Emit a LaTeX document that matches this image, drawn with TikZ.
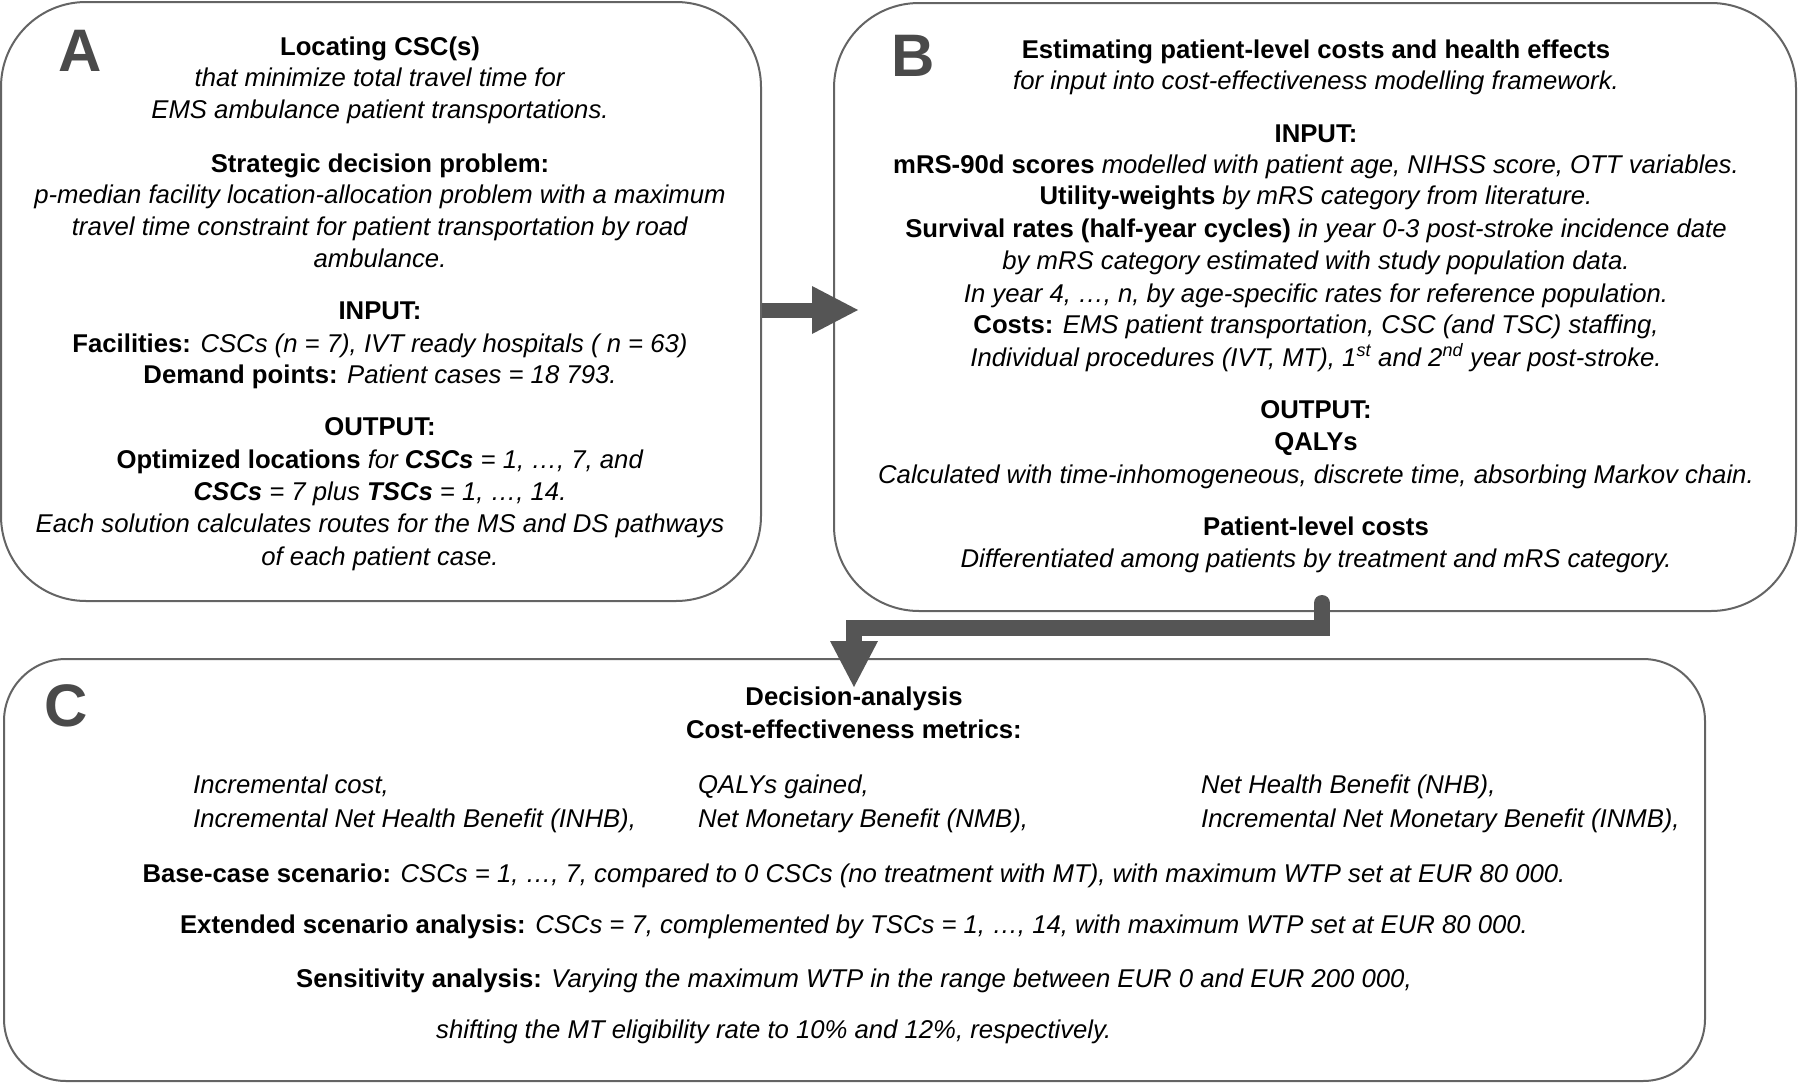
\documentclass[tikz,border=0pt]{standalone}
\usepackage{fontspec}
\setmainfont{Liberation Sans}
\usetikzlibrary{calc}
\definecolor{edgegray}{HTML}{646464}
\definecolor{arrowgray}{HTML}{555555}
\definecolor{lettergray}{HTML}{4A4A4A}
\begin{document}
\begin{tikzpicture}[x=1pt,y=-1pt,
  panel/.style={draw=edgegray, line width=2pt, fill=white, rectangle, inner sep=0pt},
  ln/.style={anchor=base, inner sep=0pt, font=\fontsize{25.7}{32}\selectfont},
  lnl/.style={ln, anchor=base west},
  letter/.style={anchor=base west, inner sep=0pt, text=lettergray, font=\fontsize{60}{60}\selectfont\bfseries},
  fatbar/.style={draw=arrowgray, line width=15pt},
  fathead/.style={fill=arrowgray}
]
\useasboundingbox (0,0) rectangle (1800,1084);

% panels
\node[panel, rounded corners=85pt, minimum width=760pt, minimum height=599pt] (A) at (381,301.5) {};
\node[panel, rounded corners=85pt, minimum width=962pt, minimum height=608pt] (B) at (1315,307) {};
\node[panel, rounded corners=62pt, minimum width=1701pt, minimum height=422pt] (C) at (854.5,870) {};

% letters
\node[letter] (la) at (58,71) {A};
\node[letter] (lb) at (891,76) {B};
\node[letter] (lc) at (44,726) {C};

% panel A text
\node[ln] (a1) at (380,55) {\textbf{Locating CSC(s)}};
\node[ln] (a2) at (380,86) {\textit{that minimize total travel time for}};
\node[ln] (a3) at (380,118) {\textit{EMS ambulance patient transportations.}};
\node[ln] (a4) at (380,172) {\textbf{Strategic decision problem:}};
\node[ln] (a5) at (380,203) {\textit{p-median facility location-allocation problem with a maximum}};
\node[ln] (a6) at (380,235) {\textit{travel time constraint for patient transportation by road}};
\node[ln] (a7) at (380,267) {\textit{ambulance.}};
\node[ln] (a8) at (380,319) {\textbf{INPUT:}};
\node[ln] (a9) at (380,352) {\textbf{Facilities:} \textit{CSCs (n = 7), IVT ready hospitals ( n = 63)}};
\node[ln] (a10) at (380,383) {\textbf{Demand points:} \textit{Patient cases = 18 793.}};
\node[ln] (a11) at (380,435) {\textbf{OUTPUT:}};
\node[ln] (a12) at (380,468) {\textbf{Optimized locations} \textit{for \textbf{CSCs} = 1, …, 7, and}};
\node[ln] (a13) at (380,500) {\textit{\textbf{CSCs} = 7 plus \textbf{TSCs} = 1, …, 14.}};
\node[ln] (a14) at (380,532) {\textit{Each solution calculates routes for the MS and DS pathways}};
\node[ln] (a15) at (380,565) {\textit{of each patient case.}};

% panel B text
\node[ln] (b1) at (1316,58) {\textbf{Estimating patient-level costs and health effects}};
\node[ln] (b2) at (1316,89) {\textit{for input into cost-effectiveness modelling framework.}};
\node[ln] (b3) at (1316,142) {\textbf{INPUT:}};
\node[ln] (b4) at (1316,173) {\textbf{mRS-90d scores} \textit{modelled with patient age, NIHSS score, OTT variables.}};
\node[ln] (b5) at (1316,204) {\textbf{Utility-weights} \textit{by mRS category from literature.}};
\node[ln] (b6) at (1316,237) {\textbf{Survival rates (half-year cycles)} \textit{in year 0-3 post-stroke incidence date}};
\node[ln] (b7) at (1316,269) {\textit{by mRS category estimated with study population data.}};
\node[ln] (b8) at (1316,302) {\textit{In year 4, …, n, by age-specific rates for reference population.}};
\node[ln] (b9) at (1316,333) {\textbf{Costs:} \textit{EMS patient transportation, CSC (and TSC) staffing,}};
\node[ln] (b10) at (1316,366) {\textit{Individual procedures (IVT, MT), 1\textsuperscript{st} and 2\textsuperscript{nd} year post-stroke.}};
\node[ln] (b11) at (1316,418) {\textbf{OUTPUT:}};
\node[ln] (b12) at (1316,450) {\textbf{QALYs}};
\node[ln] (b13) at (1316,483) {\textit{Calculated with time-inhomogeneous, discrete time, absorbing Markov chain.}};
\node[ln] (b14) at (1316,535) {\textbf{Patient-level costs}};
\node[ln] (b15) at (1316,567) {\textit{Differentiated among patients by treatment and mRS category.}};

% panel C text
\node[ln] (c1) at (854,705) {\textbf{Decision-analysis}};
\node[ln] (c2) at (854,738) {\textbf{Cost-effectiveness metrics:}};
\node[lnl] (c3) at (193,793) {\textit{Incremental cost,}};
\node[lnl] (c4) at (698,793) {\textit{QALYs gained,}};
\node[lnl] (c5) at (1201,793) {\textit{Net Health Benefit (NHB),}};
\node[lnl] (c6) at (193,827) {\textit{Incremental Net Health Benefit (INHB),}};
\node[lnl] (c7) at (698,827) {\textit{Net Monetary Benefit (NMB),}};
\node[lnl] (c8) at (1201,827) {\textit{Incremental Net Monetary Benefit (INMB),}};
\node[ln] (c9) at (854,882) {\textbf{Base-case scenario:} \textit{CSCs = 1, …, 7, compared to 0 CSCs (no treatment with MT), with maximum WTP set at EUR 80 000.}};
\node[ln] (c10) at (854,933) {\textbf{Extended scenario analysis:} \textit{CSCs = 7, complemented by TSCs = 1, …, 14, with maximum WTP set at EUR 80 000.}};
\node[ln] (c11) at (854,987) {\textbf{Sensitivity analysis:} \textit{Varying the maximum WTP in the range between EUR 0 and EUR 200 000,}};
\node[lnl] (c12) at (436,1038) {\textit{shifting the MT eligibility rate to 10\% and 12\%, respectively.}};

% connector A -> B
\coordinate (abtip) at (858,310);
\draw[fatbar] (A.east |- abtip) -- ($(abtip)+(-45,0)$);
\fill[fathead] ($(abtip)+(-46,-24)$) -- (abtip) -- ($(abtip)+(-46,24)$) -- cycle;

% connector B -> C
\coordinate (bcstart) at (1322,603);
\coordinate (bcbend) at (1322,628);
\coordinate (bctip) at (854,687);
\draw[fatbar, line width=16pt, line cap=round] (bcstart) -- (bcbend) -| ($(bctip)+(0,-45)$);
\fill[fathead] ($(bctip)+(-24,-46)$) -- (bctip) -- ($(bctip)+(24,-46)$) -- cycle;
\end{tikzpicture}
\end{document}
